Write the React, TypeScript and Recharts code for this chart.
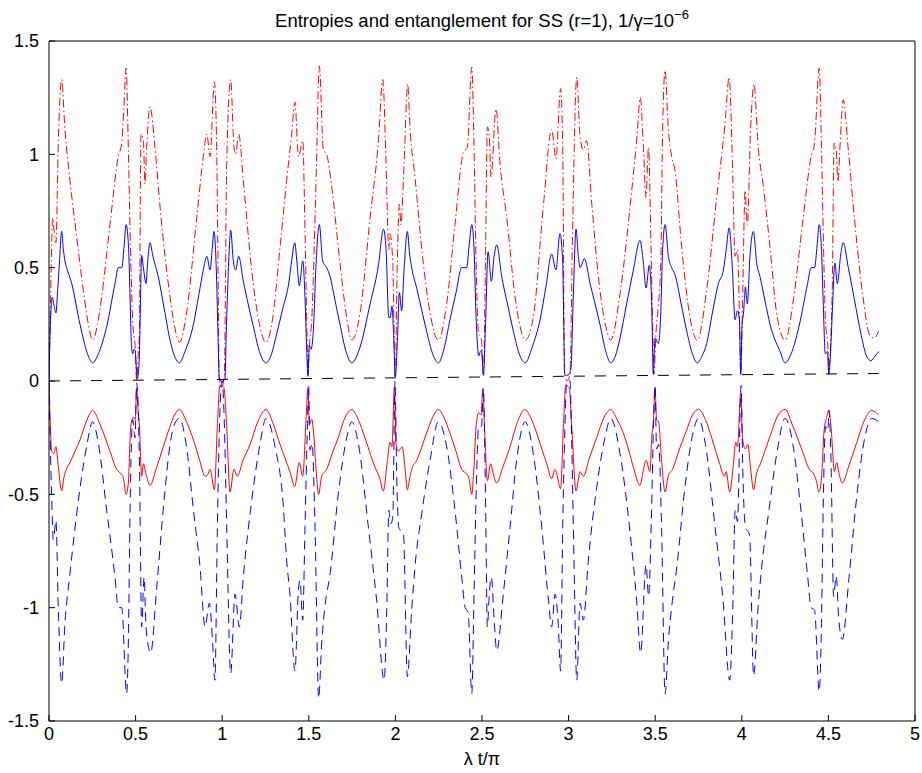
import { Line, LineChart, XAxis, YAxis } from "recharts";

// λt/π on x; blue/red solid = subsystem entropies, dash-dot & dashed = the mirrored ones

type Pt = [number, number];

const xTicks = [0, 0.5, 1, 1.5, 2, 2.5, 3, 3.5, 4, 4.5, 5];
const yTicks = [-1.5, -1, -0.5, 0, 0.5, 1, 1.5];

const blueSolid: Pt[] = [
  [0, 0], [0.006, 0.2], [0.019, 0.37], [0.03, 0.33], [0.04, 0.3], [0.05, 0.4], [0.06, 0.52],
  [0.073, 0.66], [0.083, 0.58], [0.092, 0.53], [0.102, 0.5], [0.131, 0.43], [0.179, 0.25],
  [0.227, 0.11], [0.252, 0.08], [0.285, 0.12], [0.333, 0.24], [0.381, 0.43], [0.4, 0.5],
  [0.42, 0.5], [0.434, 0.6], [0.445, 0.69], [0.458, 0.61], [0.468, 0.37], [0.476, 0.16],
  [0.483, 0.12], [0.491, 0.14], [0.497, 0.135], [0.51, 0.01], [0.521, 0.09], [0.528, 0.35],
  [0.535, 0.555], [0.545, 0.5], [0.56, 0.43], [0.57, 0.53], [0.583, 0.61], [0.6, 0.55],
  [0.631, 0.46], [0.665, 0.32], [0.699, 0.18], [0.725, 0.11], [0.753, 0.08], [0.785, 0.13],
  [0.834, 0.25], [0.865, 0.38], [0.891, 0.49], [0.911, 0.55], [0.93, 0.49], [0.942, 0.58],
  [0.953, 0.66], [0.968, 0.44], [0.976, 0.2], [0.983, 0.01], [0.997, 0], [1.016, 0.01],
  [1.023, 0.2], [1.03, 0.37], [1.04, 0.57], [1.049, 0.665], [1.064, 0.53], [1.078, 0.49],
  [1.095, 0.55], [1.122, 0.44], [1.15, 0.34], [1.18, 0.24], [1.215, 0.13], [1.253, 0.08],
  [1.285, 0.12], [1.315, 0.21], [1.35, 0.32], [1.386, 0.44], [1.401, 0.53], [1.419, 0.61],
  [1.432, 0.52], [1.445, 0.42], [1.465, 0.53], [1.478, 0.37], [1.488, 0.135], [1.495, 0.025],
  [1.503, 0.157], [1.513, 0.14], [1.526, 0.22], [1.542, 0.52], [1.561, 0.69], [1.58, 0.53],
  [1.603, 0.5], [1.623, 0.46], [1.65, 0.36], [1.68, 0.25], [1.715, 0.13], [1.748, 0.08],
  [1.796, 0.15], [1.854, 0.34], [1.902, 0.51], [1.931, 0.67], [1.946, 0.58], [1.962, 0.28],
  [1.97, 0.28], [1.98, 0.33], [1.99, 0.2], [1.999, 0.018], [2.011, 0.165], [2.023, 0.39],
  [2.036, 0.31], [2.05, 0.49], [2.069, 0.66], [2.082, 0.56], [2.094, 0.5], [2.123, 0.41],
  [2.15, 0.32], [2.18, 0.22], [2.215, 0.12], [2.248, 0.08], [2.28, 0.14], [2.315, 0.27],
  [2.35, 0.39], [2.383, 0.5], [2.411, 0.5], [2.426, 0.6], [2.441, 0.69], [2.454, 0.58],
  [2.466, 0.28], [2.481, 0.11], [2.49, 0.13], [2.497, 0.135], [2.508, 0.025], [2.52, 0.24],
  [2.535, 0.57], [2.554, 0.44], [2.57, 0.55], [2.585, 0.6], [2.614, 0.46], [2.65, 0.33],
  [2.681, 0.22], [2.715, 0.12], [2.749, 0.08], [2.79, 0.15], [2.835, 0.27], [2.87, 0.42],
  [2.902, 0.56], [2.927, 0.49], [2.95, 0.65], [2.966, 0.52], [2.972, 0.25], [2.977, 0.03],
  [2.989, 0.025], [3.004, 0.03], [3.014, 0.06], [3.027, 0.37], [3.043, 0.67], [3.055, 0.56],
  [3.066, 0.5], [3.091, 0.54], [3.124, 0.43], [3.15, 0.35], [3.181, 0.25], [3.215, 0.13],
  [3.243, 0.08], [3.27, 0.11], [3.297, 0.19], [3.335, 0.34], [3.374, 0.49], [3.412, 0.62],
  [3.432, 0.52], [3.447, 0.41], [3.466, 0.51], [3.48, 0.33], [3.489, 0.03], [3.499, 0.19],
  [3.518, 0.165], [3.532, 0.3], [3.543, 0.58], [3.557, 0.69], [3.576, 0.55], [3.595, 0.5],
  [3.614, 0.47], [3.65, 0.34], [3.682, 0.22], [3.715, 0.12], [3.743, 0.08], [3.77, 0.11],
  [3.797, 0.165], [3.83, 0.3], [3.865, 0.43], [3.894, 0.49], [3.91, 0.58], [3.927, 0.675],
  [3.946, 0.49], [3.961, 0.27], [3.975, 0.31], [3.986, 0.27], [3.994, 0.03], [4.001, 0.24],
  [4.01, 0.3], [4.021, 0.415], [4.032, 0.34], [4.047, 0.55], [4.067, 0.66], [4.086, 0.52],
  [4.105, 0.46], [4.135, 0.35], [4.163, 0.25], [4.221, 0.13], [4.25, 0.08], [4.285, 0.12],
  [4.33, 0.24], [4.38, 0.43], [4.4, 0.5], [4.42, 0.5], [4.435, 0.6], [4.447, 0.69],
  [4.46, 0.58], [4.47, 0.35], [4.482, 0.12], [4.495, 0.13], [4.502, 0.03], [4.512, 0.12],
  [4.525, 0.35], [4.537, 0.52], [4.552, 0.43], [4.57, 0.55], [4.585, 0.61], [4.615, 0.5],
  [4.65, 0.36], [4.69, 0.2], [4.72, 0.11], [4.745, 0.09], [4.77, 0.11], [4.79, 0.13],
];

const redSolid: Pt[] = [
  [0, 0], [0.008, -0.2], [0.015, -0.31], [0.029, -0.32], [0.04, -0.29], [0.054, -0.38],
  [0.073, -0.485], [0.085, -0.43], [0.1, -0.39], [0.121, -0.36], [0.15, -0.31], [0.179, -0.26],
  [0.215, -0.18], [0.252, -0.13], [0.294, -0.19], [0.352, -0.31], [0.391, -0.39], [0.416, -0.41],
  [0.43, -0.43], [0.445, -0.5], [0.458, -0.45], [0.472, -0.2], [0.487, -0.16], [0.498, -0.17],
  [0.506, -0.03], [0.514, -0.12], [0.522, -0.2], [0.535, -0.42], [0.545, -0.365], [0.56, -0.41],
  [0.583, -0.46], [0.622, -0.38], [0.66, -0.29], [0.699, -0.2], [0.725, -0.15], [0.753, -0.126],
  [0.794, -0.18], [0.834, -0.26], [0.87, -0.35], [0.901, -0.42], [0.915, -0.415], [0.93, -0.39],
  [0.955, -0.48], [0.972, -0.2], [0.987, -0.02], [1.01, -0.03], [1.026, -0.2], [1.045, -0.49],
  [1.068, -0.39], [1.087, -0.42], [1.12, -0.35], [1.161, -0.28], [1.205, -0.18], [1.253, -0.126],
  [1.295, -0.19], [1.334, -0.28], [1.391, -0.4], [1.419, -0.465], [1.445, -0.36], [1.465, -0.42],
  [1.484, -0.17], [1.495, -0.03], [1.503, -0.19], [1.517, -0.17], [1.53, -0.25], [1.542, -0.39],
  [1.557, -0.5], [1.574, -0.42], [1.603, -0.39], [1.635, -0.32], [1.67, -0.25], [1.71, -0.16],
  [1.748, -0.126], [1.78, -0.16], [1.815, -0.23], [1.85, -0.31], [1.882, -0.38], [1.91, -0.43],
  [1.93, -0.485], [1.954, -0.35], [1.969, -0.27], [1.98, -0.29], [1.994, -0.03], [2.004, -0.28],
  [2.017, -0.31], [2.027, -0.3], [2.04, -0.29], [2.055, -0.38], [2.069, -0.48], [2.08, -0.44],
  [2.094, -0.39], [2.123, -0.35], [2.18, -0.23], [2.215, -0.16], [2.248, -0.126], [2.28, -0.16],
  [2.315, -0.23], [2.35, -0.31], [2.383, -0.39], [2.411, -0.41], [2.425, -0.43], [2.441, -0.5],
  [2.452, -0.4], [2.466, -0.2], [2.481, -0.14], [2.495, -0.15], [2.504, -0.035], [2.516, -0.23],
  [2.531, -0.44], [2.55, -0.365], [2.565, -0.41], [2.585, -0.45], [2.62, -0.38], [2.662, -0.29],
  [2.705, -0.18], [2.748, -0.126], [2.78, -0.16], [2.816, -0.23], [2.845, -0.3], [2.874, -0.365],
  [2.902, -0.43], [2.922, -0.39], [2.954, -0.475], [2.97, -0.2], [2.983, -0.02], [3.004, -0.03],
  [3.018, -0.2], [3.043, -0.485], [3.066, -0.4], [3.085, -0.42], [3.12, -0.34], [3.162, -0.25],
  [3.205, -0.16], [3.243, -0.126], [3.28, -0.17], [3.316, -0.23], [3.345, -0.3], [3.374, -0.38],
  [3.412, -0.46], [3.43, -0.4], [3.447, -0.35], [3.47, -0.4], [3.48, -0.25], [3.49, -0.17],
  [3.499, -0.03], [3.508, -0.17], [3.52, -0.18], [3.535, -0.33], [3.557, -0.49], [3.575, -0.42],
  [3.6, -0.39], [3.64, -0.3], [3.68, -0.22], [3.715, -0.15], [3.75, -0.125], [3.79, -0.17],
  [3.83, -0.26], [3.87, -0.36], [3.9, -0.42], [3.91, -0.4], [3.93, -0.49], [3.95, -0.38],
  [3.965, -0.27], [3.975, -0.29], [3.994, -0.05], [4.004, -0.25], [4.02, -0.3], [4.035, -0.28],
  [4.05, -0.38], [4.068, -0.48], [4.085, -0.41], [4.11, -0.36], [4.16, -0.25], [4.21, -0.15],
  [4.25, -0.125], [4.29, -0.19], [4.35, -0.31], [4.39, -0.39], [4.415, -0.41], [4.43, -0.44],
  [4.445, -0.49], [4.46, -0.43], [4.475, -0.22], [4.49, -0.16], [4.503, -0.13], [4.515, -0.2],
  [4.535, -0.4], [4.548, -0.36], [4.562, -0.41], [4.58, -0.45], [4.62, -0.37], [4.66, -0.28],
  [4.71, -0.17], [4.75, -0.13], [4.79, -0.15],
];

const redDashDot: Pt[] = [
  [0, 0], [0.01, 0.4], [0.021, 0.72], [0.029, 0.665], [0.04, 0.61], [0.054, 1.06], [0.073, 1.33],
  [0.092, 1.11], [0.121, 0.885], [0.16, 0.635], [0.198, 0.4], [0.225, 0.26], [0.252, 0.18],
  [0.28, 0.25], [0.304, 0.37], [0.352, 0.69], [0.4, 0.99], [0.42, 1.05], [0.432, 1.2],
  [0.445, 1.38], [0.458, 1.03], [0.468, 0.665], [0.483, 0.27], [0.497, 0.15], [0.506, 0],
  [0.515, 0.12], [0.522, 0.22], [0.531, 1.09], [0.545, 1.06], [0.554, 0.87], [0.564, 1.03],
  [0.583, 1.21], [0.612, 1.03], [0.641, 0.77], [0.67, 0.55], [0.699, 0.37], [0.725, 0.24],
  [0.753, 0.17], [0.794, 0.3], [0.853, 0.72], [0.891, 0.99], [0.911, 1.09], [0.93, 0.99],
  [0.955, 1.32], [0.968, 1.03], [0.976, 0.5], [0.983, 0.02], [0.997, -0.03], [1.012, 0.02],
  [1.026, 0.96], [1.049, 1.33], [1.068, 1.03], [1.078, 1.0], [1.095, 1.09], [1.122, 0.885],
  [1.17, 0.49], [1.21, 0.27], [1.253, 0.17], [1.29, 0.27], [1.334, 0.59], [1.372, 0.885],
  [1.4, 1.08], [1.42, 1.23], [1.44, 0.99], [1.465, 1.06], [1.478, 0.665], [1.488, 0.27],
  [1.495, 0.02], [1.503, 0.15], [1.517, 0.27], [1.542, 0.885], [1.561, 1.39], [1.584, 1.02],
  [1.603, 1.0], [1.632, 0.86], [1.68, 0.52], [1.715, 0.3], [1.748, 0.18], [1.796, 0.3],
  [1.854, 0.72], [1.902, 1.06], [1.927, 1.33], [1.946, 0.96], [1.962, 0.58], [1.969, 0.65],
  [1.985, 0.52], [1.999, 0.02], [2.011, 0.52], [2.023, 0.78], [2.032, 0.69], [2.05, 0.96],
  [2.071, 1.31], [2.085, 1.11], [2.113, 0.9], [2.161, 0.52], [2.2, 0.3], [2.248, 0.18],
  [2.296, 0.34], [2.344, 0.69], [2.393, 1.01], [2.415, 1.03], [2.441, 1.385], [2.454, 1.03],
  [2.466, 0.52], [2.479, 0.22], [2.497, 0.18], [2.508, 0.03], [2.52, 0.52], [2.531, 1.12],
  [2.542, 1.08], [2.552, 0.9], [2.581, 1.2], [2.604, 0.96], [2.643, 0.72], [2.691, 0.37],
  [2.72, 0.24], [2.75, 0.18], [2.796, 0.28], [2.854, 0.77], [2.902, 1.11], [2.927, 0.98],
  [2.954, 1.29], [2.966, 1.03], [2.977, 0.03], [2.991, 0], [3.008, 0.03], [3.023, 0.665],
  [3.047, 1.34], [3.066, 1.08], [3.085, 1.02], [3.104, 1.06], [3.134, 0.78], [3.181, 0.4],
  [3.215, 0.24], [3.243, 0.18], [3.297, 0.385], [3.355, 0.77], [3.395, 1.08], [3.414, 1.25],
  [3.432, 1.03], [3.447, 0.81], [3.461, 1.03], [3.476, 0.59], [3.486, 0.22], [3.493, 0.03],
  [3.505, 0.22], [3.518, 0.33], [3.532, 0.52], [3.543, 1.11], [3.557, 1.37], [3.576, 1.11],
  [3.595, 0.99], [3.614, 0.93], [3.653, 0.59], [3.701, 0.28], [3.743, 0.18], [3.797, 0.4],
  [3.855, 0.81], [3.903, 1.135], [3.927, 1.34], [3.946, 0.96], [3.961, 0.55], [3.975, 0.58],
  [3.986, 0.3], [3.994, 0.03], [4.005, 0.37], [4.019, 0.84], [4.032, 0.69], [4.051, 1.11],
  [4.07, 1.31], [4.095, 1.03], [4.124, 0.86], [4.163, 0.59], [4.201, 0.3], [4.25, 0.18],
  [4.3, 0.37], [4.35, 0.69], [4.4, 0.99], [4.42, 1.05], [4.447, 1.38], [4.46, 1.03],
  [4.47, 0.66], [4.483, 0.27], [4.497, 0.15], [4.503, 0.05], [4.512, 0.15], [4.522, 0.4],
  [4.533, 1.05], [4.545, 1.02], [4.555, 0.88], [4.568, 1.05], [4.585, 1.24], [4.615, 1.02],
  [4.65, 0.72], [4.7, 0.37], [4.74, 0.2], [4.765, 0.19], [4.79, 0.22],
];

const blueDashed: Pt[] = [
  [0, 0], [0.008, -0.3], [0.015, -0.5], [0.025, -0.7], [0.04, -0.615], [0.054, -1.01],
  [0.073, -1.335], [0.092, -1.07], [0.121, -0.85], [0.169, -0.53], [0.217, -0.29], [0.252, -0.18],
  [0.285, -0.275], [0.333, -0.57], [0.381, -0.865], [0.4, -1.0], [0.42, -1.0], [0.448, -1.38],
  [0.458, -1.16], [0.468, -0.57], [0.483, -0.17], [0.497, -0.25], [0.506, -0.01], [0.522, -0.35],
  [0.535, -1.085], [0.549, -0.865], [0.56, -1.085], [0.587, -1.2], [0.622, -0.91], [0.664, -0.53],
  [0.699, -0.28], [0.725, -0.19], [0.753, -0.165], [0.794, -0.29], [0.834, -0.57], [0.872, -0.82],
  [0.901, -1.085], [0.926, -0.98], [0.945, -1.16], [0.958, -1.32], [0.972, -0.645], [0.987, -0.13],
  [0.999, 0], [1.01, -0.13], [1.026, -0.645], [1.049, -1.29], [1.074, -0.94], [1.099, -1.085],
  [1.122, -0.865], [1.17, -0.53], [1.218, -0.28], [1.253, -0.165], [1.305, -0.29], [1.353, -0.555],
  [1.372, -0.79], [1.391, -0.94], [1.42, -1.28], [1.44, -0.92], [1.449, -0.88], [1.465, -1.055],
  [1.478, -0.645], [1.492, -0.2], [1.499, -0.02], [1.507, -0.305], [1.519, -0.275], [1.536, -0.645],
  [1.557, -1.4], [1.574, -1.16], [1.594, -0.99], [1.623, -0.85], [1.67, -0.5], [1.719, -0.25],
  [1.748, -0.18], [1.786, -0.275], [1.844, -0.645], [1.892, -0.97], [1.935, -1.32], [1.95, -1.01],
  [1.962, -0.57], [1.973, -0.63], [1.985, -0.6], [1.998, 0], [2.007, -0.395], [2.019, -0.645],
  [2.03, -0.66], [2.046, -0.67], [2.069, -1.305], [2.094, -1.01], [2.113, -0.82], [2.152, -0.585],
  [2.2, -0.35], [2.248, -0.18], [2.296, -0.29], [2.344, -0.57], [2.383, -0.865], [2.403, -1.0],
  [2.42, -1.02], [2.441, -1.38], [2.454, -0.94], [2.466, -0.5], [2.481, -0.2], [2.497, -0.2],
  [2.508, -0.03], [2.52, -0.5], [2.531, -1.085], [2.542, -0.94], [2.554, -0.865], [2.57, -1.05],
  [2.585, -1.19], [2.623, -0.94], [2.662, -0.645], [2.7, -0.35], [2.749, -0.18], [2.796, -0.32],
  [2.845, -0.645], [2.884, -0.97], [2.902, -1.085], [2.922, -0.94], [2.94, -1.07], [2.954, -1.28],
  [2.966, -0.645], [2.979, -0.2], [2.989, 0], [3.008, 0], [3.018, -0.275], [3.031, -0.79],
  [3.047, -1.32], [3.066, -0.98], [3.085, -1.055], [3.114, -0.79], [3.162, -0.47], [3.21, -0.25],
  [3.243, -0.165], [3.297, -0.32], [3.355, -0.67], [3.393, -0.97], [3.416, -1.2], [3.447, -0.81],
  [3.462, -0.95], [3.478, -0.6], [3.49, -0.2], [3.499, -0.02], [3.508, -0.3], [3.52, -0.28],
  [3.537, -0.65], [3.557, -1.38], [3.576, -1.15], [3.596, -0.99], [3.625, -0.82], [3.67, -0.48],
  [3.715, -0.24], [3.75, -0.165], [3.79, -0.28], [3.845, -0.64], [3.892, -0.97], [3.93, -1.32],
  [3.948, -1.0], [3.962, -0.57], [3.975, -0.62], [3.996, -0.02], [4.006, -0.4], [4.02, -0.64],
  [4.045, -0.68], [4.068, -1.3], [4.094, -1.0], [4.115, -0.82], [4.155, -0.58], [4.2, -0.33],
  [4.25, -0.165], [4.295, -0.28], [4.34, -0.56], [4.38, -0.86], [4.4, -1.0], [4.42, -1.01],
  [4.447, -1.37], [4.458, -1.15], [4.47, -0.56], [4.483, -0.2], [4.497, -0.22], [4.503, -0.13],
  [4.515, -0.35], [4.53, -0.95], [4.545, -0.86], [4.56, -1.05], [4.58, -1.14], [4.62, -0.86],
  [4.665, -0.5], [4.71, -0.25], [4.75, -0.165], [4.79, -0.18],
];

const blackDashed: Pt[] = [
  [0, 0], [1, 0.007], [2, 0.014], [3, 0.021], [4, 0.028], [4.79, 0.033],
];

const FONT = '"Liberation Sans", Arial, Helvetica, sans-serif';
const W = 922;
const H = 773;

const pts = (a: Pt[]) => a.map(([x, y]) => ({ x, y }));

const TICK = { fill: "#000", fontSize: 18, fontFamily: FONT };

export default function App() {
  return (
    <div style={{ position: "absolute", left: 0, top: 0, width: W, height: H, background: "#fff" }}>
      <LineChart width={W} height={H} margin={{ top: 40, right: 6, bottom: 0, left: 0 }}>
        <XAxis
          dataKey="x"
          type="number"
          domain={[0, 5]}
          ticks={xTicks}
          height={52}
          stroke="#000"
          tick={TICK}
          tickSize={-6}
          tickMargin={12}
          allowDataOverflow
        />
        {/* caixa do matlab: eixo de cima e da direita so com os tracinhos */}
        <XAxis
          xAxisId="top"
          orientation="top"
          dataKey="x"
          type="number"
          domain={[0, 5]}
          ticks={xTicks}
          height={1}
          stroke="#000"
          tick={false}
          tickSize={-6}
          allowDataOverflow
        />
        <YAxis
          type="number"
          domain={[-1.5, 1.5]}
          ticks={yTicks}
          width={49}
          stroke="#000"
          tick={TICK}
          tickSize={-6}
          tickMargin={16}
          allowDataOverflow
        />
        <YAxis
          yAxisId="right"
          orientation="right"
          type="number"
          domain={[-1.5, 1.5]}
          ticks={yTicks}
          width={1}
          stroke="#000"
          tick={false}
          tickSize={-6}
          allowDataOverflow
        />
        <Line data={pts(redDashDot)} dataKey="y" type="monotone" stroke="#ff0000" strokeWidth={1}
          strokeDasharray="8 3 1.5 3" dot={false} isAnimationActive={false} />
        <Line data={pts(blueSolid)} dataKey="y" type="monotone" stroke="#0000ff" strokeWidth={1}
          dot={false} isAnimationActive={false} />
        <Line data={pts(redSolid)} dataKey="y" type="monotone" stroke="#ff0000" strokeWidth={1}
          dot={false} isAnimationActive={false} />
        <Line data={pts(blueDashed)} dataKey="y" type="monotone" stroke="#0000ff" strokeWidth={1}
          strokeDasharray="9 6" dot={false} isAnimationActive={false} />
        <Line data={pts(blackDashed)} dataKey="y" xAxisId="top" yAxisId="right" type="linear"
          stroke="#000" strokeWidth={1} strokeDasharray="11 10" dot={false} isAnimationActive={false} />
      </LineChart>
      <svg width={W} height={H} style={{ position: "absolute", left: 0, top: 0, pointerEvents: "none" }}>
        <text x={482} y={27} textAnchor="middle" fontFamily={FONT} fontSize={18.5} fill="#000">
          Entropies and entanglement for SS (r=1), 1/γ=10
          <tspan dy={-8} fontSize={13}>−6</tspan>
        </text>
        <text x={482} y={765} textAnchor="middle" fontFamily={FONT} fontSize={18} fill="#000">
          λ t/π
        </text>
      </svg>
    </div>
  );
}
